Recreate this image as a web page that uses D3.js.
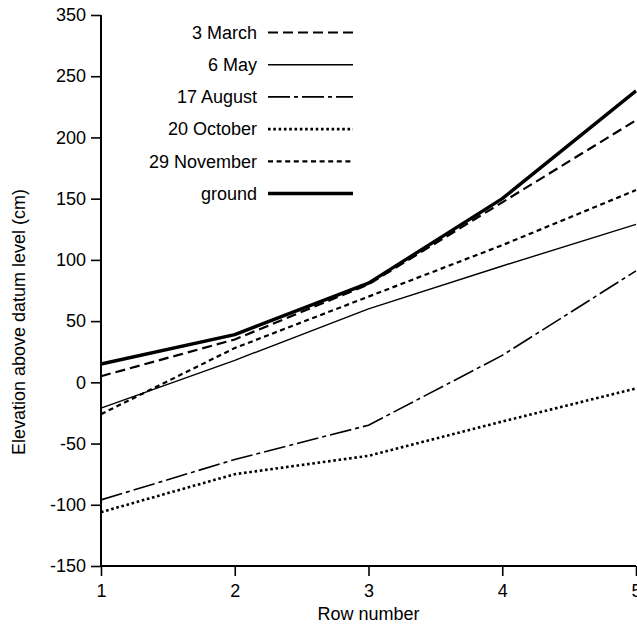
<!DOCTYPE html>
<html>
<head>
<meta charset="utf-8">
<script src="https://cdn.jsdelivr.net/npm/d3@7"></script>
<style>
  html, body { margin: 0; padding: 0; background: #fff; }
  svg { display: block; }
  text { font-family: "Liberation Sans", Arial, Helvetica, sans-serif; fill: #000; }
</style>
</head>
<body>
<svg id="chart" width="637" height="627"></svg>
<script>
// ---- data ----
const rows = [1, 2, 3, 4, 5];
const march3   = [5, 35, 80, 147, 214];
const may6     = [-21, 18, 60, 95, 129];
const august17 = [-96, -63, -35, 22, 91];
const october20 = [-106, -75, -60, -32, -5];
const november29 = [-26, 28, 70, 112, 157];
const ground   = [15, 39, 81, 150, 238];
const seriesNames = ["3 March", "6 May", "17 August", "20 October", "29 November", "ground"];
const yTickValues = [-150, -100, -50, 0, 50, 100, 150, 200, 250, 300];
const yTickLabels = ["-150", "-100", "-50", "0", "50", "100", "150", "200", "250", "350"];
const xTickLabels = ["1", "2", "3", "4", "5"];

const seriesValues = [march3, may6, august17, october20, november29, ground];
const styles = [
  { w: 2.2, dash: "10,5" },
  { w: 1.4, dash: null },
  { w: 1.6, dash: "22,4,4,4" },
  { w: 2.6, dash: "2.6,2.7" },
  { w: 2.2, dash: "5,3.6" },
  { w: 3.4, dash: null }
];

const svg = d3.select("#chart");
const x = d3.scaleLinear().domain([1, 5]).range([101, 636]);
const y = d3.scaleLinear().domain([-150, 300]).range([566, 15]);

// axes
const xAxis = d3.axisBottom(x).tickValues(rows).tickSize(10).tickPadding(8)
  .tickFormat((d, i) => xTickLabels[i]);
const yAxis = d3.axisLeft(y).tickValues(yTickValues).tickSize(10).tickPadding(5)
  .tickFormat((d, i) => yTickLabels[i]);

const gx = svg.append("g").attr("transform", "translate(0,566)").call(xAxis);
const gy = svg.append("g").attr("transform", "translate(101,0)").call(yAxis);
[gx, gy].forEach(g => {
  g.select(".domain").attr("stroke", "#000").attr("stroke-width", 2);
  g.selectAll(".tick line").attr("stroke", "#000").attr("stroke-width", 1.6);
  g.selectAll(".tick text").attr("font-size", 18).attr("font-family", "Liberation Sans, Arial, sans-serif").attr("fill", "#000");
});
gx.select(".domain").attr("d", "M101,0H636");
gy.select(".domain").attr("d", "M0,15V566");

// titles
svg.append("text")
  .attr("x", (101 + 636) / 2).attr("y", 620)
  .attr("text-anchor", "middle").attr("font-size", 18)
  .text("Row number");
svg.append("text")
  .attr("transform", "translate(25,322) rotate(-90)")
  .attr("text-anchor", "middle").attr("font-size", 18)
  .text("Elevation above datum level (cm)");

// lines
const line = d3.line().x((d, i) => x(rows[i])).y(d => y(d));
seriesValues.forEach((vals, k) => {
  svg.append("path")
    .datum(vals)
    .attr("d", line)
    .attr("fill", "none")
    .attr("stroke", "#000")
    .attr("stroke-width", styles[k].w)
    .attr("stroke-dasharray", styles[k].dash)
    .attr("stroke-linejoin", "round");
});

// legend
const legend = svg.append("g");
seriesNames.forEach((name, k) => {
  const ly = 32.5 + k * 32.2;
  legend.append("text")
    .attr("x", 257).attr("y", ly).attr("dy", "0.35em")
    .attr("text-anchor", "end").attr("font-size", 18)
    .text(name);
  legend.append("line")
    .attr("x1", 268).attr("x2", 353).attr("y1", ly).attr("y2", ly)
    .attr("stroke", "#000")
    .attr("stroke-width", styles[k].w)
    .attr("stroke-dasharray", styles[k].dash);
});
</script>
</body>
</html>
